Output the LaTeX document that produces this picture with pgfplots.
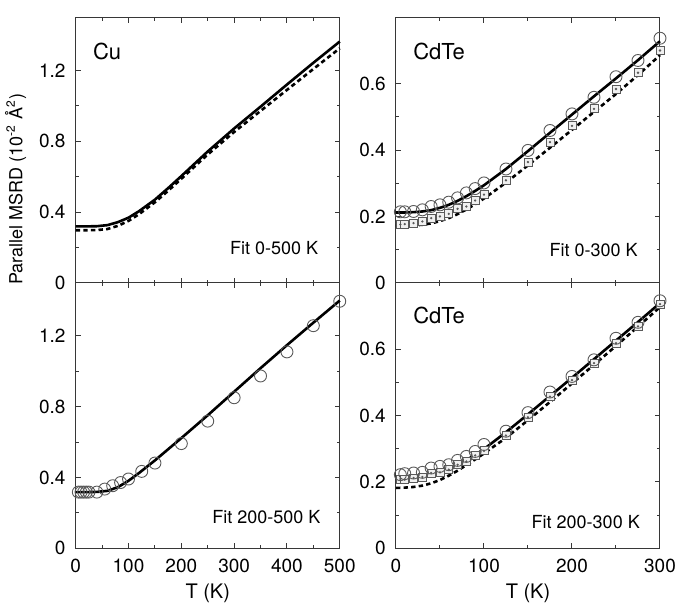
\documentclass[border=0pt]{standalone}
\usepackage{fontspec}
\setmainfont{TeX Gyre Heros}
\usepackage{pgfplots}
\usepackage{pgfplotstable}
\pgfplotsset{compat=1.18}
\usepgfplotslibrary{groupplots}
\usetikzlibrary{calc}

\definecolor{frame}{RGB}{55,55,55}
\definecolor{mk}{RGB}{90,90,90}

% Cu, fit 0-500 K
\pgfplotstableread{
T    solid  dash
0    0.319  0.297
20   0.319  0.297
40   0.320  0.298
60   0.326  0.304
80   0.343  0.322
100  0.368  0.350
120  0.405  0.388
150  0.470  0.455
175  0.535  0.520
200  0.603  0.588
250  0.742  0.725
300  0.872  0.852
350  0.995  0.971
400  1.120  1.090
450  1.243  1.208
500  1.363  1.325
}\cuA

% Cu, fit 200-500 K
\pgfplotstableread{
T    fit
0    0.318
20   0.318
40   0.319
60   0.325
80   0.346
100  0.382
120  0.426
150  0.497
175  0.560
200  0.623
250  0.752
300  0.885
350  1.018
400  1.148
450  1.275
500  1.400
}\cuB

\pgfplotstableread{
T    msrd
5    0.318
10   0.318
15   0.318
20   0.318
25   0.318
40   0.318
55   0.335
70   0.354
85   0.372
100  0.392
125  0.435
150  0.482
200  0.592
250  0.719
300  0.851
350  0.974
400  1.110
450  1.258
500  1.396
}\cuData

% CdTe, fit 0-300 K
\pgfplotstableread{
T    solid  dash
0    0.212  0.172
10   0.212  0.172
20   0.213  0.173
30   0.215  0.175
40   0.219  0.179
50   0.226  0.186
60   0.235  0.195
70   0.247  0.207
80   0.261  0.221
90   0.277  0.237
100  0.294  0.254
125  0.343  0.302
150  0.397  0.354
175  0.452  0.407
200  0.507  0.461
225  0.562  0.515
250  0.616  0.569
275  0.671  0.626
300  0.728  0.686
}\cdA

\pgfplotstableread{
T    circ   sq
5    0.214  0.176
10   0.214  0.177
20   0.215  0.180
30   0.220  0.185
40   0.230  0.195
50   0.235  0.200
60   0.243  0.208
70   0.256  0.223
80   0.271  0.230
90   0.284  0.248
100  0.301  0.266
125  0.343  0.309
150  0.399  0.364
175  0.459  0.424
200  0.509  0.473
225  0.559  0.524
250  0.621  0.584
275  0.670  0.633
300  0.737  0.700
}\cdDataA

% CdTe, fit 200-300 K
\pgfplotstableread{
T    solid  dash
0    0.217  0.182
10   0.217  0.183
20   0.218  0.185
30   0.220  0.189
40   0.224  0.196
50   0.231  0.206
60   0.240  0.219
70   0.252  0.234
80   0.266  0.251
90   0.282  0.268
100  0.299  0.286
125  0.350  0.333
150  0.404  0.386
175  0.459  0.441
200  0.514  0.497
225  0.570  0.553
250  0.626  0.610
275  0.682  0.668
300  0.739  0.727
}\cdB

\pgfplotstableread{
T    circ   sq
5    0.222  0.209
10   0.225  0.207
20   0.227  0.212
30   0.229  0.215
40   0.242  0.227
50   0.247  0.229
60   0.252  0.237
70   0.265  0.252
80   0.277  0.262
90   0.292  0.280
100  0.313  0.294
125  0.353  0.340
150  0.409  0.395
175  0.471  0.457
200  0.518  0.507
225  0.568  0.558
250  0.633  0.618
275  0.681  0.669
300  0.746  0.736
}\cdDataB

\pgfplotsset{
  fitline/.style={black, line width=1.3pt, no markers},
  fitdash/.style={black, line width=1.3pt, no markers, dash pattern=on 2.2pt off 1.6pt},
  circs/.style={only marks, mark=o, mark size=3pt, mark options={draw=mk, line width=0.45pt}},
  sqs/.style={only marks, mark=square*, mark size=2pt, mark options={draw=mk, fill=gray!12, line width=0.45pt}},
  dots/.style={only marks, mark=*, mark size=0.35pt, mark options={draw=mk, fill=mk}},
}

\begin{document}
\begin{tikzpicture}
\begin{groupplot}[
  group style={group size=2 by 2, horizontal sep=28.1pt, vertical sep=0pt,
    xticklabels at=edge bottom},
  scale only axis, width=132pt, height=132.75pt,
  ymin=0,
  axis line style={frame, line width=0.5pt},
  tick style={frame, line width=0.5pt},
  major tick length=2.6pt, minor tick length=1.6pt,
  tick align=inside,
  minor x tick num=1, minor y tick num=1,
  /pgf/number format/assume math mode=true,
  /pgf/number format/fixed,
  tick label style={font=\fontsize{9.5}{11}\selectfont},
  x tick label style={yshift=-2pt},
  y tick label style={xshift=-1.6pt},
  clip=false,
]
% top left: Cu
\nextgroupplot[xmin=0, xmax=500, ymax=1.5, xtick={0,100,...,500}, ytick={0,0.4,0.8,1.2}]
\addplot[fitline] table[x=T, y=solid] {\cuA};
\addplot[fitdash] table[x=T, y=dash] {\cuA};
\node[anchor=north west, inner sep=0pt, font=\fontsize{11}{13}\selectfont] at (rel axis cs:0.064,0.905) {Cu};
\node[anchor=base east, inner sep=0pt, font=\fontsize{9}{11}\selectfont] at (rel axis cs:0.92,0.105) {Fit 0-500 K};

% top right: CdTe
\nextgroupplot[xmin=0, xmax=300, ymax=0.8, xtick={0,100,200,300}, ytick={0,0.2,0.4,0.6}]
\addplot[fitline] table[x=T, y=solid] {\cdA};
\addplot[fitdash] table[x=T, y=dash] {\cdA};
\addplot[sqs] table[x=T, y=sq] {\cdDataA};
\addplot[dots] table[x=T, y=sq] {\cdDataA};
\addplot[circs] table[x=T, y=circ] {\cdDataA};
\node[anchor=north west, inner sep=0pt, font=\fontsize{11}{13}\selectfont] at (rel axis cs:0.064,0.905) {CdTe};
\node[anchor=base east, inner sep=0pt, font=\fontsize{9}{11}\selectfont] at (rel axis cs:0.917,0.1) {Fit 0-300 K};

% bottom left: Cu
\nextgroupplot[xmin=0, xmax=500, ymax=1.5, xtick={0,100,...,500}, ytick={0,0.4,0.8,1.2},
  xlabel={T (K)}, xlabel style={at={(axis description cs:0.5,0)}, anchor=center, yshift=-22.5pt, font=\fontsize{10}{12}\selectfont}]
\addplot[fitline] table[x=T, y=fit] {\cuB};
\addplot[circs] table[x=T, y=msrd] {\cuData};
\node[anchor=base east, inner sep=0pt, font=\fontsize{9}{11}\selectfont] at (rel axis cs:0.928,0.095) {Fit 200-500 K};

% bottom right: CdTe
\nextgroupplot[xmin=0, xmax=300, ymax=0.8, xtick={0,100,200,300}, ytick={0,0.2,0.4,0.6},
  xlabel={T (K)}, xlabel style={at={(axis description cs:0.5,0)}, anchor=center, yshift=-22.5pt, font=\fontsize{10}{12}\selectfont}]
\addplot[fitline] table[x=T, y=solid] {\cdB};
\addplot[fitdash] table[x=T, y=dash] {\cdB};
\addplot[sqs] table[x=T, y=sq] {\cdDataB};
\addplot[dots] table[x=T, y=sq] {\cdDataB};
\addplot[circs] table[x=T, y=circ] {\cdDataB};
\node[anchor=north west, inner sep=0pt, font=\fontsize{11}{13}\selectfont] at (rel axis cs:0.064,0.91) {CdTe};
\node[anchor=base east, inner sep=0pt, font=\fontsize{9}{11}\selectfont] at (rel axis cs:0.925,0.075) {Fit 200-300 K};
\end{groupplot}

\node[rotate=90, font=\fontsize{9}{11}\selectfont] at ($(group c1r1.north west)+(-30pt,-86pt)$)
  {Parallel MSRD (10\textsuperscript{-2} Å\textsuperscript{2})};

\pgfresetboundingbox
\path[use as bounding box] ($(group c1r1.north west)+(-37.85pt,8.65pt)$) rectangle ($(group c2r2.south east)+(9pt,-27.35pt)$);
\end{tikzpicture}
\end{document}
